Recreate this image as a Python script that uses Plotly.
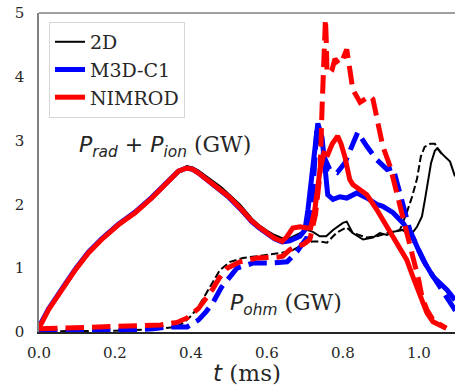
import plotly.graph_objects as go

# ---- P_rad + P_ion (solid) ----
t_2d_tot = [0.0, 0.007, 0.025, 0.06, 0.095, 0.13, 0.165, 0.209, 0.253, 0.297, 0.34, 0.367,
            0.389, 0.405, 0.42, 0.45, 0.48, 0.5, 0.53, 0.56, 0.58, 0.6, 0.62, 0.64, 0.66,
            0.687, 0.705, 0.721, 0.739, 0.756, 0.774, 0.8, 0.81, 0.826, 0.853, 0.879, 0.897,
            0.916, 0.932, 0.958, 0.976, 0.995, 1.008, 1.016, 1.024, 1.032, 1.042, 1.048,
            1.063, 1.082, 1.095]
p_2d_tot = [0.08, 0.15, 0.36, 0.67, 0.98, 1.25, 1.46, 1.69, 1.88, 2.11, 2.37, 2.53,
            2.6, 2.58, 2.53, 2.4, 2.27, 2.16, 1.99, 1.78, 1.67, 1.59, 1.52, 1.47, 1.47,
            1.55, 1.6, 1.57, 1.5, 1.5, 1.6, 1.71, 1.73, 1.55, 1.45, 1.48, 1.55,
            1.52, 1.57, 1.6, 1.5, 1.65, 1.81, 2.08, 2.34, 2.65, 2.84, 2.88,
            2.78, 2.67, 2.44]

t_m3d_tot = [0.0, 0.007, 0.025, 0.06, 0.095, 0.13, 0.165, 0.209, 0.253, 0.297, 0.34, 0.367,
             0.389, 0.405, 0.42, 0.45, 0.48, 0.5, 0.53, 0.56, 0.58, 0.6, 0.62, 0.64, 0.66,
             0.687, 0.7, 0.708, 0.718, 0.726, 0.734, 0.745, 0.753, 0.76, 0.774, 0.792, 0.81,
             0.837, 0.863, 0.889, 0.905, 0.932, 0.958, 0.984, 1.011, 1.037, 1.074, 1.095]
p_m3d_tot = [0.08, 0.15, 0.36, 0.67, 0.98, 1.25, 1.46, 1.69, 1.88, 2.11, 2.37, 2.52,
             2.57, 2.55, 2.49, 2.35, 2.21, 2.11, 1.93, 1.73, 1.63, 1.54, 1.46, 1.41, 1.43,
             1.5, 1.6, 1.92, 2.4, 2.9, 3.27, 3.05, 2.6, 2.15, 2.08, 2.12, 2.1,
             2.18, 2.1, 2.0, 1.97, 1.87, 1.71, 1.48, 1.13, 0.87, 0.66, 0.5]

t_nim_tot = [0.0, 0.007, 0.025, 0.06, 0.095, 0.13, 0.165, 0.209, 0.253, 0.297, 0.34, 0.367,
             0.389, 0.405, 0.42, 0.45, 0.48, 0.5, 0.53, 0.56, 0.58, 0.6, 0.62, 0.64, 0.652,
             0.668, 0.687, 0.705, 0.715, 0.726, 0.74, 0.75, 0.76, 0.772, 0.786, 0.795, 0.805,
             0.818, 0.826, 0.845, 0.863, 0.889, 0.916, 0.942, 0.968, 0.984, 1.003, 1.021,
             1.037, 1.063, 1.072]
p_nim_tot = [0.08, 0.14, 0.35, 0.66, 0.97, 1.24, 1.45, 1.68, 1.87, 2.1, 2.36, 2.52,
             2.57, 2.55, 2.49, 2.35, 2.22, 2.12, 1.94, 1.74, 1.64, 1.55, 1.47, 1.42, 1.49,
             1.63, 1.65, 1.63, 1.63, 1.92, 2.55, 2.8, 2.78, 2.95, 3.07, 2.95, 2.75,
             2.39, 2.31, 2.23, 2.15, 1.92, 1.65, 1.4, 1.13, 0.87, 0.55, 0.3,
             0.16, 0.08, 0.06]

# ---- P_ohm (dashed) ----
t_2d_ohm = [0.0, 0.1, 0.2, 0.3, 0.36, 0.38, 0.4, 0.42, 0.44, 0.46, 0.476, 0.503, 0.537,
            0.589, 0.626, 0.66, 0.695, 0.721, 0.74, 0.758, 0.784, 0.81, 0.826, 0.863,
            0.889, 0.916, 0.95, 0.968, 0.982, 0.995, 1.005, 1.015, 1.03, 1.042, 1.055, 1.065]
p_2d_ohm = [0.01, 0.01, 0.02, 0.04, 0.08, 0.14, 0.25, 0.4, 0.6, 0.8, 0.97, 1.1, 1.16,
            1.2, 1.23, 1.26, 1.37, 1.42, 1.42, 1.4, 1.56, 1.64, 1.55, 1.48,
            1.5, 1.55, 1.6, 1.87, 2.12, 2.4, 2.75, 2.9, 2.95, 2.95, 2.83, 2.75]

t_m3d_ohm = [0.0, 0.1, 0.2, 0.3, 0.34, 0.39, 0.42, 0.44, 0.458, 0.48, 0.503, 0.521, 0.563,
             0.608, 0.653, 0.679, 0.705, 0.718, 0.726, 0.732, 0.74, 0.75, 0.765, 0.785,
             0.805, 0.826, 0.839, 0.863, 0.889, 0.916, 0.932, 0.942, 0.963, 0.976, 0.995,
             1.021, 1.055, 1.09, 1.1]
p_m3d_ohm = [0.01, 0.01, 0.02, 0.05, 0.08, 0.08, 0.19, 0.32, 0.46, 0.7, 0.87, 1.0, 1.08,
             1.08, 1.1, 1.26, 1.48, 1.9, 2.7, 3.25, 3.0, 2.75, 2.55, 2.5,
             2.65, 2.97, 3.13, 2.91, 2.7, 2.55, 2.58, 2.35, 1.92, 1.6, 1.34,
             1.02, 0.71, 0.39, 0.3]

t_nim_ohm = [0.0, 0.05, 0.15, 0.25, 0.32, 0.363, 0.39, 0.42, 0.44, 0.458, 0.475, 0.495,
             0.529, 0.574, 0.626, 0.642, 0.66, 0.679, 0.695, 0.713, 0.728, 0.74, 0.745,
             0.75, 0.754, 0.756, 0.758, 0.765, 0.771, 0.779, 0.79, 0.797, 0.81, 0.818,
             0.826, 0.845, 0.86, 0.871, 0.879, 0.889, 0.897, 0.905, 0.924, 0.942, 0.958,
             0.976, 0.99, 1.0, 1.008, 1.021, 1.037, 1.063, 1.072]
p_nim_ohm = [0.05, 0.06, 0.07, 0.09, 0.11, 0.15, 0.22, 0.37, 0.52, 0.68, 0.85, 1.0,
             1.1, 1.16, 1.17, 1.19, 1.29, 1.35, 1.37, 1.45, 1.85, 2.5, 3.5,
             4.3, 4.9, 4.6, 4.1, 4.05, 4.1, 4.28, 4.2, 4.24, 4.43, 4.12,
             3.8, 3.6, 3.65, 3.7, 3.65, 3.38, 3.18, 2.91, 2.6, 2.18, 1.76,
             1.4, 1.08, 0.8, 0.55, 0.35, 0.19, 0.08, 0.06]

x_ticks = [0.0, 0.2, 0.4, 0.6, 0.8, 1.0]
y_ticks = [0, 1, 2, 3, 4, 5]

SERIF = "DejaVu Serif"
SANS = "DejaVu Sans"
INK = "#262626"

fig = go.Figure()

def dash(w):
    return f"{3.7 * w:.1f}px,{1.6 * w:.1f}px"

series = [
    ("2D", "#000000", 2.0, t_2d_tot, p_2d_tot, t_2d_ohm, p_2d_ohm),
    ("M3D-C1", "#0000ff", 5.0, t_m3d_tot, p_m3d_tot, t_m3d_ohm, p_m3d_ohm),
    ("NIMROD", "#ff0000", 5.0, t_nim_tot, p_nim_tot, t_nim_ohm, p_nim_ohm),
]

for name, color, w, tt, pt, to, po in series:
    fig.add_trace(go.Scatter(x=tt, y=pt, mode="lines", name=name,
                             line=dict(color=color, width=w), showlegend=True))
    fig.add_trace(go.Scatter(x=to, y=po, mode="lines", name=name,
                             line=dict(color=color, width=w, dash=dash(w)),
                             showlegend=False))

gw = f'<span style="font-family:{SERIF}"> (GW)</span>'
fig.add_annotation(
    x=0.0913, y=0.58, xref="paper", yref="paper", xanchor="left", yanchor="middle",
    showarrow=False, font=dict(family=SANS, size=22, color=INK),
    text="<i>P</i><sub><i>rad</i></sub> + <i>P</i><sub><i>ion</i></sub>" + gw,
)
fig.add_annotation(
    x=0.454, y=0.085, xref="paper", yref="paper", xanchor="left", yanchor="middle",
    showarrow=False, font=dict(family=SANS, size=22, color=INK),
    text="<i>P</i><sub><i>ohm</i></sub>" + gw,
)
# axis label
fig.add_annotation(
    x=0.5, y=-0.128, xref="paper", yref="paper", xanchor="center", yanchor="middle",
    showarrow=False, font=dict(family=SERIF, size=23, color=INK),
    text=f'<span style="font-family:{SANS}"><i>t</i></span> (ms)',
)
# top spine
fig.add_shape(type="line", xref="paper", yref="paper", x0=0, x1=1, y0=1, y1=1,
              line=dict(color="#808080", width=1.5))

fig.update_layout(
    width=455, height=388,
    margin=dict(l=39, r=0, t=13, b=56),
    plot_bgcolor="white", paper_bgcolor="white",
    font=dict(family=SERIF, color=INK),
    legend=dict(x=0.024, y=0.972, xanchor="left", yanchor="top",
                bgcolor="white", bordercolor="#d6d6d6", borderwidth=1,
                font=dict(family=SERIF, size=19, color=INK)),
    xaxis=dict(range=[0, 1.095], tickvals=x_ticks, ticktext=[f"{v:.1f}" for v in x_ticks],
               showgrid=False, zeroline=False, showline=True, linecolor=INK, linewidth=1.5,
               ticks="", tickfont=dict(family=SERIF, size=15, color=INK),
               ticklabelstandoff=6),
    yaxis=dict(range=[0, 5], tickvals=y_ticks, ticktext=[str(v) for v in y_ticks],
               showgrid=False, zeroline=False, showline=True, linecolor="#808080",
               linewidth=1.5, ticks="", tickfont=dict(family=SERIF, size=15, color=INK),
               ticklabelstandoff=10),
)

fig.write_html("out.html")
